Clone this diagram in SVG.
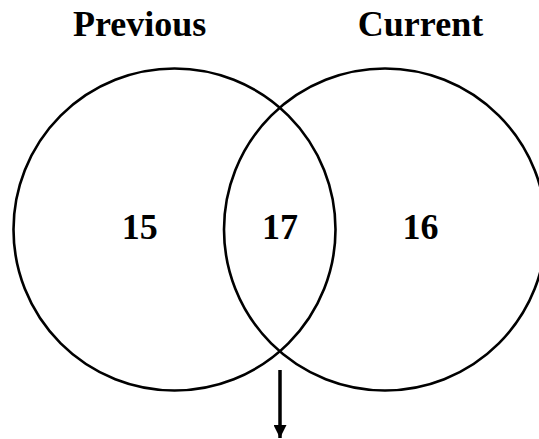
<svg xmlns="http://www.w3.org/2000/svg" width="539" height="439" viewBox="0 0 539 439">
<defs>
<style>
.c{fill:none;stroke:#000;stroke-width:2.6}
.t{font-family:"Liberation Serif","Times New Roman",serif;font-weight:bold;font-size:36px;fill:#000;text-anchor:middle}
</style>
<marker id="ah" markerUnits="userSpaceOnUse" markerWidth="14" markerHeight="13" refX="13" refY="6.5" orient="auto">
<path d="M0,0 L13,6.5 L0,13 Z" fill="#000"/>
</marker>
</defs>
<rect width="539" height="439" fill="#fff"/>
<g id="previous">
<circle class="c" cx="174.5" cy="229.5" r="161"/>
<text class="t" x="139.7" y="36">Previous</text>
<text class="t" x="139.7" y="239">15</text>
</g>
<g id="current">
<circle class="c" cx="385" cy="229.5" r="161"/>
<text class="t" x="420.5" y="36">Current</text>
<text class="t" x="420.5" y="239">16</text>
</g>
<g id="overlap">
<text class="t" x="280" y="239">17</text>
</g>
<g id="connectors">
<line x1="280" y1="370" x2="280" y2="438" stroke="#000" stroke-width="3.5" marker-end="url(#ah)"/>
</g>
</svg>
